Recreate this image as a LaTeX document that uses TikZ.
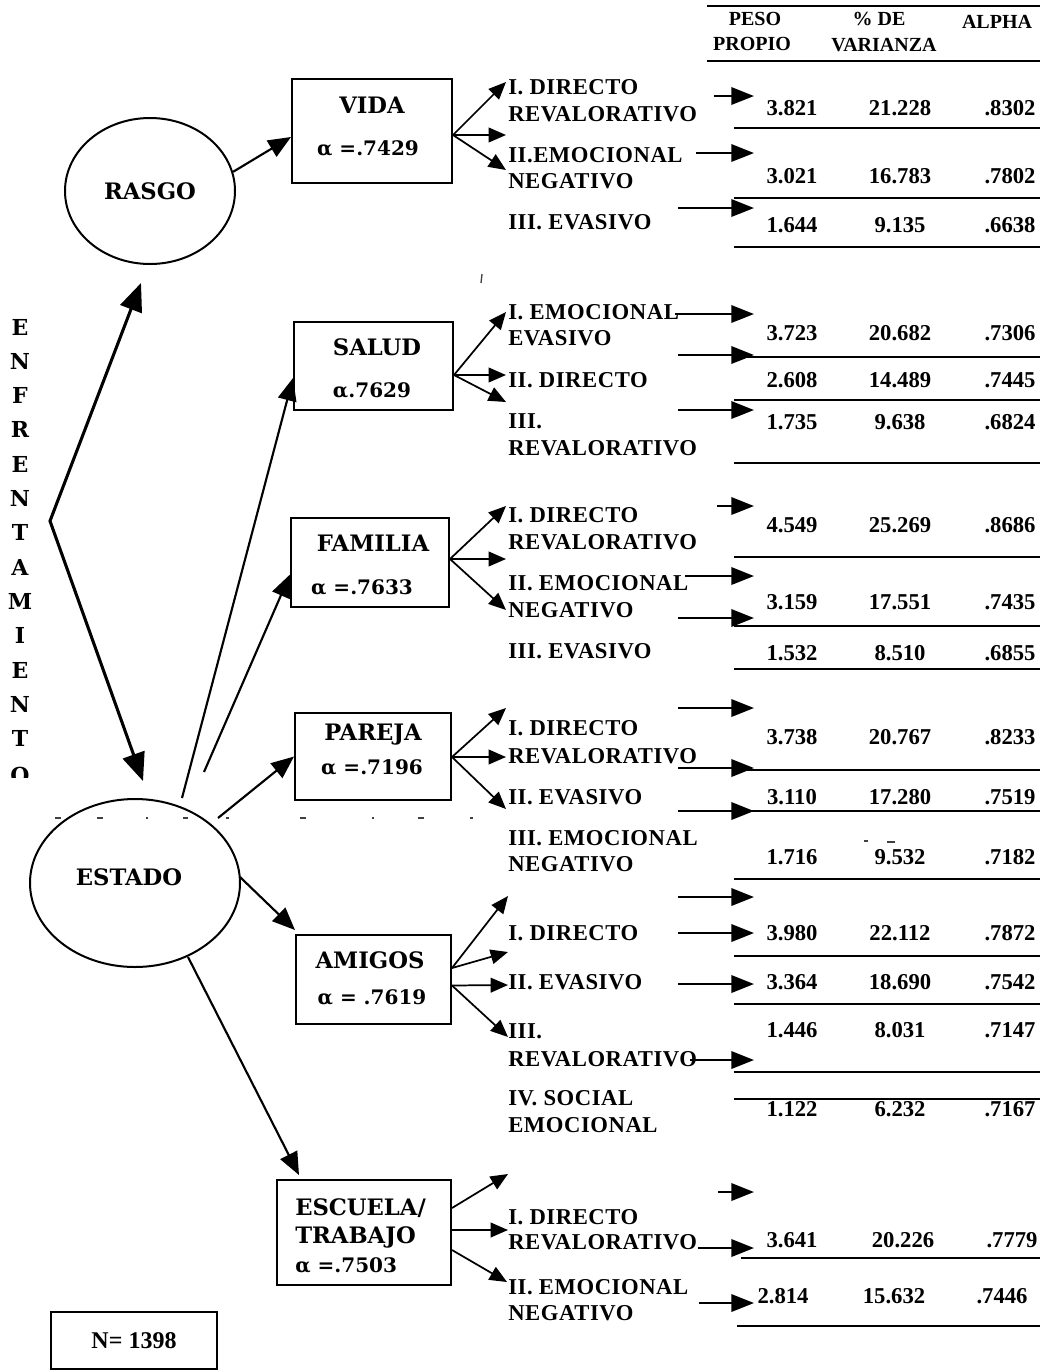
\documentclass[tikz,border=0pt]{standalone}
\usepackage{fontspec}
\setmainfont{Liberation Serif}
\newfontfamily\bkfont{DejaVu Serif}
\newfontfamily\spfont[LetterSpace=2.5]{Liberation Serif}
\usetikzlibrary{arrows.meta,shapes.geometric,calc}

\tikzset{
  every node/.style={inner sep=0pt},
  factorell/.style={draw, ellipse, line width=1.5pt, inner sep=0pt},
  dombox/.style={draw, rectangle, line width=1.5pt, inner sep=0pt},
  boxtitle/.style={font=\bkfont\bfseries\fontsize{17}{20}\selectfont},
  boxalpha/.style={font=\bkfont\bfseries\fontsize{15}{18}\selectfont},
  lab/.style={anchor=west, font=\spfont\bfseries\fontsize{17}{19}\selectfont},
  val/.style={font=\bfseries\fontsize{17}{19}\selectfont},
  hdr/.style={font=\bfseries\fontsize{15}{17}\selectfont},
  linkarr/.style={line width=1.6pt, -{Triangle[length=17pt,width=14pt]}},
  fanarr/.style={line width=1.3pt, -{Triangle[length=13pt,width=11pt]}},
  tabarr/.style={line width=1.8pt, -{Triangle[length=17pt,width=13pt]}},
  tabrule/.style={line width=1.4pt},
  mainarr/.style={line width=2.3pt, line join=miter,
    {Triangle[length=21pt,width=17pt]}-{Triangle[length=21pt,width=17pt]}},
  speck/.style={black!75, line width=1pt},
}

% one row of the table: y, eigenvalue, % variance, alpha, name prefix
\newcommand\valrow[5]{%
  \node[val] (#5a) at (792,#1) {#2};
  \node[val] (#5b) at (900,#1) {#3};
  \node[val] (#5c) at (1010,#1) {#4};}
\newcommand\tblarrow[2]{\draw[tabarr] (#1,#2) -- (754,#2);}
\newcommand\tblrule[2]{\draw[tabrule] (#1,#2) -- (1040,#2);}

\begin{document}
\begin{tikzpicture}[x=0.75pt,y=-0.75pt]
\useasboundingbox (0,0) rectangle (1040,1372);

% ---------- latent factors ----------
\node[factorell, boxtitle, minimum width=127.5pt, minimum height=109.5pt] (rasgo) at (150,191) {RASGO};
\node[factorell, minimum width=157.5pt, minimum height=126pt] (estado) at (135,883) {};
\node[boxtitle] (estadoT) at (129,877) {ESTADO};

% vertical title
\foreach \ch [count=\i from 0] in {E,N,F,R,E,N,T,A,M,I,E,N,T}
  \node[font=\bkfont\bfseries\fontsize{16.5}{18}\selectfont] (enf\i) at (20,{327+\i*34.3}) {\ch};
\begin{scope}
  \clip (0,755) rectangle (60,777);
  \node[font=\bkfont\bfseries\fontsize{16.5}{18}\selectfont] (enfO) at (20,775) {O};
\end{scope}

\coordinate (topTip) at (141,283);
\coordinate (apex) at (50,521);
\coordinate (botTip) at (143,781);
\draw[mainarr] (topTip) -- (apex) -- (botTip);

% ---------- domain boxes ----------
\node[dombox, minimum width=120pt, minimum height=78pt] (vida) at (372,131) {};
\node[boxtitle] (vidaT) at (372,105) {VIDA};
\node[boxalpha] (vidaA) at (368,148) {α =.7429};

\node[dombox, minimum width=119.25pt, minimum height=66pt] (salud) at (373.5,366) {};
\node[boxtitle] (saludT) at (377,347) {SALUD};
\node[boxalpha] (saludA) at (372,390) {α.7629};

\node[dombox, minimum width=118.5pt, minimum height=66.75pt] (familia) at (370,562.5) {};
\node[boxtitle] (familiaT) at (373,543) {FAMILIA};
\node[boxalpha] (familiaA) at (362,587) {α =.7633};

\node[dombox, minimum width=117pt, minimum height=65.25pt] (pareja) at (373,756.5) {};
\node[boxtitle] (parejaT) at (373,735) {PAREJA};
\node[boxalpha] (parejaA) at (372,767) {α =.7196};

\node[dombox, minimum width=116.25pt, minimum height=66.75pt] (amigos) at (373.5,979.5) {};
\node[boxtitle] (amigosT) at (370,960) {AMIGOS};
\node[boxalpha] (amigosA) at (372,997) {α = .7619};

\node[dombox, minimum width=130.5pt, minimum height=78.75pt] (escuela) at (364,1232.5) {};
\node[boxtitle, anchor=west] (escuelaT1) at (295,1208) {ESCUELA/};
\node[boxtitle, anchor=west] (escuelaT2) at (295,1237) {TRABAJO};
\node[boxalpha, anchor=west] (escuelaA) at (295,1265) {α =.7503};

\node[dombox, minimum width=124.5pt, minimum height=42.75pt,
      font=\bfseries\fontsize{18}{20}\selectfont] (nbox) at (134,1340.5) {N= 1398};

% ---------- factor -> domain links ----------
\draw[linkarr] (rasgo.13) -- ($(vida.west)+(0,6)$);

\coordinate (eS) at (182,798);
\coordinate (eF) at (204,772);
\coordinate (eP) at (218,818);
\coordinate (eA) at (240,877);
\coordinate (eE) at (188,957);
\draw[linkarr] (eS) -- ($(salud.west)+(0,12)$);
\draw[linkarr] (eF) -- ($(familia.west)+(0,12)$);
\draw[linkarr] (eP) -- (pareja.west);
\draw[linkarr] (eA) -- ($(amigos.north west)+(0,-4)$);
\draw[linkarr] (eE) -- ($(escuela.north west)+(23,-4)$);

% ---------- fans towards the factor labels ----------
\coordinate (vo) at ($(vida.east)+(0,4)$);
\coordinate (v1) at (506,82);  \coordinate (v2) at (506,135); \coordinate (v3) at (506,170);
\draw[fanarr] (vo) -- (v1); \draw[fanarr] (vo) -- (v2); \draw[fanarr] (vo) -- (v3);

\coordinate (so) at ($(salud.east)+(0,9)$);
\coordinate (s1) at (506,312); \coordinate (s2) at (506,375); \coordinate (s3) at (506,402);
\draw[fanarr] (so) -- (s1); \draw[fanarr] (so) -- (s2); \draw[fanarr] (so) -- (s3);

\coordinate (fo) at ($(familia.east)+(0,-3.5)$);
\coordinate (f1) at (506,506); \coordinate (f2) at (506,559); \coordinate (f3) at (506,610);
\draw[fanarr] (fo) -- (f1); \draw[fanarr] (fo) -- (f2); \draw[fanarr] (fo) -- (f3);

\coordinate (po) at ($(pareja.east)+(0,0.5)$);
\coordinate (p1) at (506,708); \coordinate (p2) at (506,757); \coordinate (p3) at (506,809);
\draw[fanarr] (po) -- (p1); \draw[fanarr] (po) -- (p2); \draw[fanarr] (po) -- (p3);

\coordinate (ao1) at ($(amigos.east)+(0,-11.5)$);
\coordinate (ao2) at ($(amigos.east)+(0,6)$);
\coordinate (a1) at (508,896); \coordinate (a2) at (508,952);
\coordinate (a3) at (508,985); \coordinate (a4) at (508,1037);
\draw[fanarr] (ao1) -- (a1); \draw[fanarr] (ao1) -- (a2);
\draw[fanarr] (ao2) -- (a3); \draw[fanarr] (ao2) -- (a4);

\coordinate (eo1) at ($(escuela.east)+(0,-24.5)$);
\coordinate (eo2) at ($(escuela.east)+(0,-2.5)$);
\coordinate (eo3) at ($(escuela.east)+(0,17.5)$);
\coordinate (w1) at (508,1174); \coordinate (w2) at (508,1230); \coordinate (w3) at (507,1282);
\draw[fanarr] (eo1) -- (w1); \draw[fanarr] (eo2) -- (w2); \draw[fanarr] (eo3) -- (w3);

% ---------- factor labels ----------
\node[lab] (lv1) at (508,87)  {I. DIRECTO};
\node[lab] (lv2) at (508,114) {REVALORATIVO};
\node[lab] (lv3) at (508,155) {II.EMOCIONAL};
\node[lab] (lv4) at (508,181) {NEGATIVO};
\node[lab] (lv5) at (508,222) {III. EVASIVO};

\node[lab] (ls1) at (508,312) {I. EMOCIONAL};
\node[lab] (ls2) at (508,338) {EVASIVO};
\node[lab] (ls3) at (508,380) {II. DIRECTO};
\node[lab] (ls4) at (508,421) {III.};
\node[lab] (ls5) at (508,448) {REVALORATIVO};

\node[lab] (lf1) at (508,515) {I. DIRECTO};
\node[lab] (lf2) at (508,542) {REVALORATIVO};
\node[lab] (lf3) at (508,583) {II. EMOCIONAL};
\node[lab] (lf4) at (508,610) {NEGATIVO};
\node[lab] (lf5) at (508,651) {III. EVASIVO};

\node[lab] (lp1) at (508,728) {I. DIRECTO};
\node[lab] (lp2) at (508,756) {REVALORATIVO};
\node[lab] (lp3) at (508,797) {II. EVASIVO};
\node[lab] (lp4) at (508,838) {III. EMOCIONAL};
\node[lab] (lp5) at (508,864) {NEGATIVO};

\node[lab] (la1) at (508,933)  {I. DIRECTO};
\node[lab] (la2) at (508,982)  {II. EVASIVO};
\node[lab] (la3) at (508,1031) {III.};
\node[lab] (la4) at (508,1059) {REVALORATIVO};
\node[lab] (la5) at (508,1098) {IV. SOCIAL};
\node[lab] (la6) at (508,1125) {EMOCIONAL};

\node[lab] (le1) at (508,1217) {I. DIRECTO};
\node[lab] (le2) at (508,1242) {REVALORATIVO};
\node[lab] (le3) at (508,1287) {II. EMOCIONAL};
\node[lab] (le4) at (508,1313) {NEGATIVO};

% ---------- table ----------
\draw[tabrule] (707,6) -- (1040,6);
\node[hdr] (h1a) at (755,19) {PESO};
\node[hdr] (h1b) at (752,44) {PROPIO};
\node[hdr] (h2a) at (879,19) {\% DE};
\node[hdr] (h2b) at (884,45) {VARIANZA};
\node[hdr] (h3)  at (997,22) {ALPHA};
\draw[tabrule] (707,61) -- (1040,61);

% VIDA
\tblarrow{714}{96} \tblarrow{696}{153} \tblarrow{678}{208}
\valrow{108}{3.821}{21.228}{.8302}{r1}
\valrow{176}{3.021}{16.783}{.7802}{r2}
\valrow{225}{1.644}{9.135}{.6638}{r3}
\tblrule{734}{128} \tblrule{734}{198} \tblrule{734}{247}

% SALUD
\tblarrow{675}{314} \tblarrow{678}{355} \tblarrow{678}{410}
\valrow{333}{3.723}{20.682}{.7306}{r4}
\valrow{380}{2.608}{14.489}{.7445}{r5}
\valrow{422}{1.735}{9.638}{.6824}{r6}
\tblrule{734}{357} \tblrule{734}{400} \tblrule{734}{463}

% FAMILIA
\tblarrow{717}{506} \tblarrow{685}{576} \tblarrow{678}{618}
\valrow{525}{4.549}{25.269}{.8686}{r7}
\valrow{602}{3.159}{17.551}{.7435}{r8}
\valrow{653}{1.532}{8.510}{.6855}{r9}
\tblrule{734}{557} \tblrule{734}{626} \tblrule{734}{669}

% PAREJA
\tblarrow{678}{708} \tblarrow{678}{768} \tblarrow{678}{811}
\valrow{737}{3.738}{20.767}{.8233}{r10}
\valrow{797}{3.110}{17.280}{.7519}{r11}
\valrow{857}{1.716}{9.532}{.7182}{r12}
\tblrule{734}{770} \tblrule{734}{811} \tblrule{734}{879}

% AMIGOS
\tblarrow{678}{897} \tblarrow{678}{933} \tblarrow{678}{984} \tblarrow{690}{1060}
\valrow{933}{3.980}{22.112}{.7872}{r13}
\valrow{982}{3.364}{18.690}{.7542}{r14}
\valrow{1030}{1.446}{8.031}{.7147}{r15}
\valrow{1109}{1.122}{6.232}{.7167}{r16}
\tblrule{734}{956} \tblrule{734}{1004} \tblrule{734}{1072} \tblrule{734}{1099}

% ESCUELA / TRABAJO
\tblarrow{718}{1192} \tblarrow{698}{1248} \tblarrow{699}{1303}
\node[val] (r17a) at (792,1240) {3.641};
\node[val] (r17b) at (903,1240) {20.226};
\node[val] (r17c) at (1012,1240) {.7779};
\node[val] (r18a) at (783,1296) {2.814};
\node[val] (r18b) at (894,1296) {15.632};
\node[val] (r18c) at (1002,1296) {.7446};
\tblrule{741}{1258} \tblrule{737}{1326}

% ---------- stray print specks ----------
\draw[speck] (482,274) -- (481,283);
\foreach \x/\w in {55/6, 97/6, 146/2, 183/5, 226/3, 300/6, 372/2, 418/6, 470/3}
  \draw[speck] (\x,818) -- ++(\w,0);
\draw[speck] (864,841) -- ++(4,0);
\draw[speck] (887,842) -- ++(8,0);
\end{tikzpicture}
\end{document}
